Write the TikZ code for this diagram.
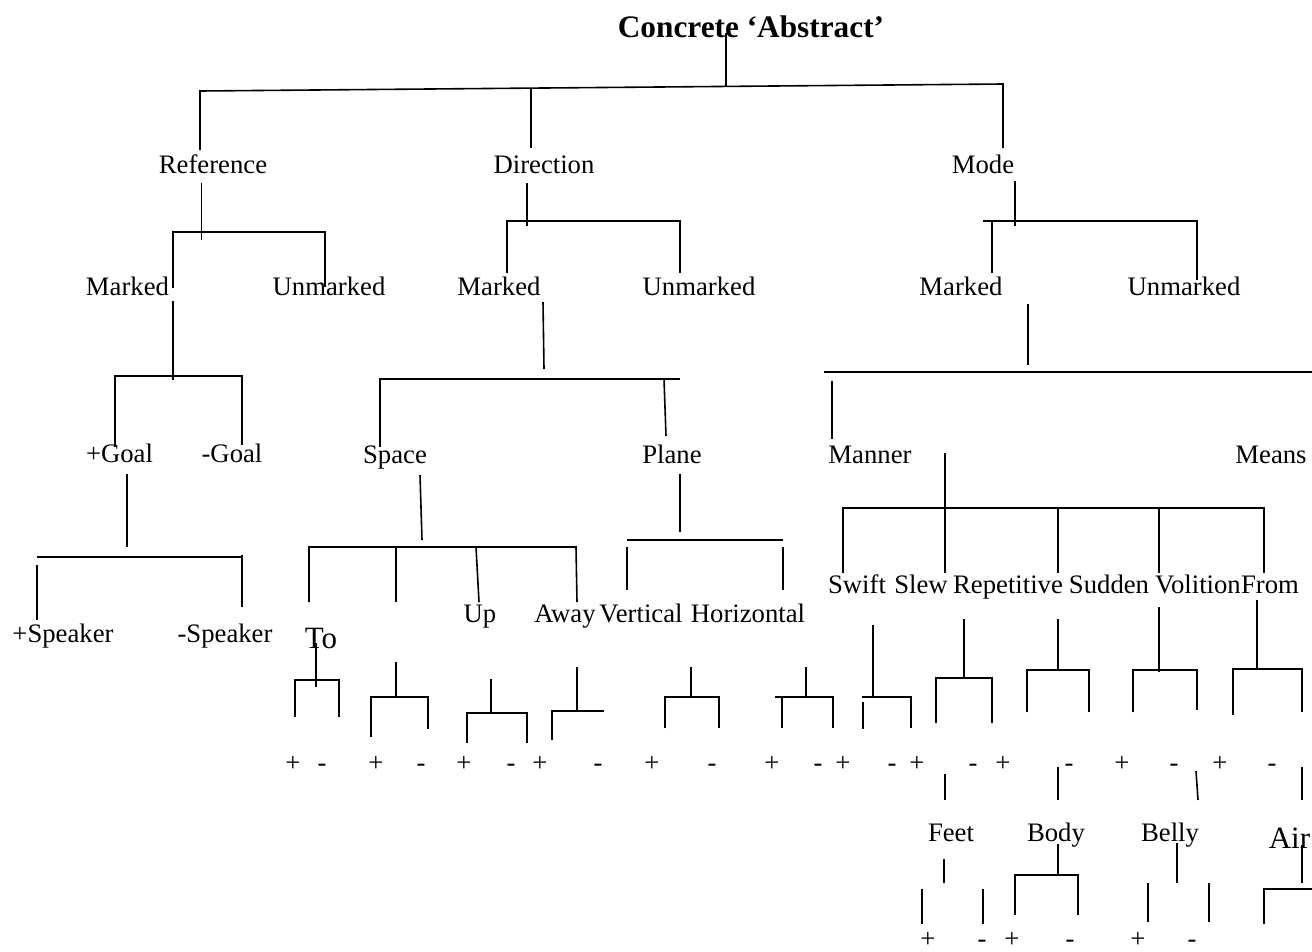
\documentclass[tikz,border=0pt]{standalone}
\usepackage{fontspec}
\setmainfont{Liberation Serif}
\begin{document}
\begin{tikzpicture}[x=1pt,y=-1pt,line width=1.6pt,
  lab/.style={font=\fontsize{26.7}{30}\selectfont,inner sep=0pt,anchor=base},
  big/.style={font=\fontsize{31}{34}\selectfont,inner sep=0pt,anchor=base},
  ttl/.style={font=\bfseries\fontsize{31.3}{34}\selectfont,inner sep=0pt,anchor=base},
  pm/.style={font=\fontsize{26.7}{30}\selectfont,inner sep=0pt,anchor=base}]
\useasboundingbox (0,0) rectangle (1312,951);
% title and top level
\node[ttl] (title) at (751,37) {Concrete ‘Abstract’};
\draw (726,33) -- (726,86);
\draw (200,150) -- (200,91) -- (1003,84) -- (1003,148);
\draw (531,88) -- (531,148);
\node[lab] (ref) at (213,173) {Reference};
\node[lab] (dir) at (544,173) {Direction};
\node[lab] (mode) at (983,173) {Mode};
% Reference subtree
\draw (201.5,183) -- (201.5,240);
\draw (173,288) -- (173,232) -- (325,232) -- (325,287);
\node[lab] (refm) at (127.5,295) {Marked};
\node[lab] (refu) at (329,295) {Unmarked};
\draw (173,301) -- (173,380);
\draw (115,447) -- (115,376) -- (242,376) -- (242,445);
\node[lab] (pgoal) at (119.5,462) {+Goal};
\node[lab] (mgoal) at (232,462) {-Goal};
\draw (127,474) -- (127,547);
\draw (37,557) -- (242,557);
\draw (37,565) -- (37,620);
\draw (242,555) -- (242,607);
\node[lab] (pspk) at (63,642) {+Speaker};
\node[lab] (mspk) at (225,642) {-Speaker};
% Direction subtree
\draw (526.7,183) -- (526.7,226);
\draw (507,273) -- (507,221) -- (680,221) -- (680,273);
\node[lab] (dirm) at (499,295) {Marked};
\node[lab] (diru) at (699,295) {Unmarked};
\draw (543,302) -- (544,369);
\draw (380,447) -- (380,379) -- (680,379);
\draw (664,379) -- (666,436);
\node[lab] (space) at (395,463) {Space};
\node[lab] (plane) at (672,463) {Plane};
\draw (420,475) -- (422,540);
\draw (309,602) -- (309,547) -- (576,547) -- (577,602);
\draw (396,547) -- (396,602);
\draw (476,547) -- (479,602);
\node[big] (to) at (321,648) {To};
\node[lab] (up) at (480,622) {Up};
\node[lab] (away) at (565,622) {Away};
\node[lab] (vert) at (641,622) {Vertical};
\node[lab] (horiz) at (748,622) {Horizontal};
\draw (680,474) -- (680,532);
\draw (627,540) -- (783,540);
\draw (627,547) -- (627,590);
\draw (783,547) -- (783,590);
% +/- brackets, middle row
\draw (316,643) -- (316,687);
\draw (295,717) -- (295,680) -- (339,680) -- (339,717);
\draw (396,662) -- (396,697);
\draw (371,737) -- (371,697) -- (428,697) -- (428,729);
\draw (491,679) -- (491,713);
\draw (467,743) -- (467,713) -- (527,713) -- (527,743);
\draw (577,667) -- (577,711);
\draw (552,740) -- (552,711) -- (604,711);
\draw (691,667) -- (691,697);
\draw (665,728) -- (665,697) -- (719,697) -- (719,728);
\draw (806,667) -- (806,697);
\draw (775,697) -- (833,697) -- (833,728);
\draw (782,697) -- (782,728);
\draw (873,625) -- (873,697);
\draw (862,697) -- (911,697) -- (911,728);
\draw (863,702) -- (863,729);
\draw (964,619) -- (964,678);
\draw (936,723) -- (936,678) -- (992,678) -- (992,723);
\draw (1058,619) -- (1058,670);
\draw (1027,712) -- (1027,670) -- (1089,670) -- (1089,712);
\draw (1159,607) -- (1159,672);
\draw (1133,712) -- (1133,670) -- (1197,670) -- (1197,710);
\draw (1257,600) -- (1257,669);
\draw (1233,715) -- (1233,669) -- (1302,669) -- (1302,712);
\foreach \x/\s [count=\i] in {293/+,322/-,376/+,421/-,464/+,511/-,540/+,598/-,652/+,712/-,772/+,818/-,843/+,892/-,917/+,973/-,1003/+,1069/-,1122/+,1174/-,1220/+,1272/-}
  \node[pm] (pm\i) at (\x,771) {\s};
% Mode subtree
\draw (1015,181) -- (1015,226);
\draw (983,221) -- (1197,221) -- (1197,280);
\draw (992,221) -- (992,273);
\node[lab] (modem) at (961,295) {Marked};
\node[lab] (modeu) at (1184,295) {Unmarked};
\draw (1028,304) -- (1028,365);
\draw (824,372) -- (1312,372);
\draw (832,381) -- (832,439);
\node[lab] (manner) at (870,463) {Manner};
\node[lab] (means) at (1271,463) {Means};
\draw (945,453) -- (945,508);
\draw (843,573) -- (843,508) -- (1264,508) -- (1264,573);
\draw (945,508) -- (945,573);
\draw (1058,508) -- (1058,573);
\draw (1159,508) -- (1159,573);
\node[lab] (swift) at (857,593) {Swift};
\node[lab] (slew) at (921,593) {Slew};
\node[lab] (rep) at (1008,593) {Repetitive};
\node[lab] (sud) at (1109,593) {Sudden};
\node[lab] (vol) at (1198,593) {Volition};
\node[lab] (from) at (1270,593) {From};
% bottom row
\draw (945,774) -- (945,800);
\draw (1058,767) -- (1058,800);
\draw (1196,771) -- (1198,800);
\draw (1302,767) -- (1302,800);
\node[lab] (feet) at (951,841) {Feet};
\node[lab] (body) at (1056,841) {Body};
\node[lab] (belly) at (1170,841) {Belly};
\node[big,anchor=base west] (air) at (1268,848) {Air};
\draw (944,859) -- (944,883);
\draw (922,889) -- (922,924);
\draw (983,889) -- (983,924);
\draw (1058,844) -- (1058,875);
\draw (1015,915) -- (1015,875) -- (1078,875) -- (1078,915);
\draw (1177,843) -- (1177,883);
\draw (1148,883) -- (1148,922);
\draw (1209,883) -- (1209,922);
\draw (1302,845) -- (1302,883);
\draw (1264,924) -- (1264,889) -- (1312,889);
\foreach \x/\s [count=\i] in {928/+,982/-,1012/+,1070/-,1138/+,1192/-}
  \node[pm] (bpm\i) at (\x,947) {\s};
\end{tikzpicture}
\end{document}
